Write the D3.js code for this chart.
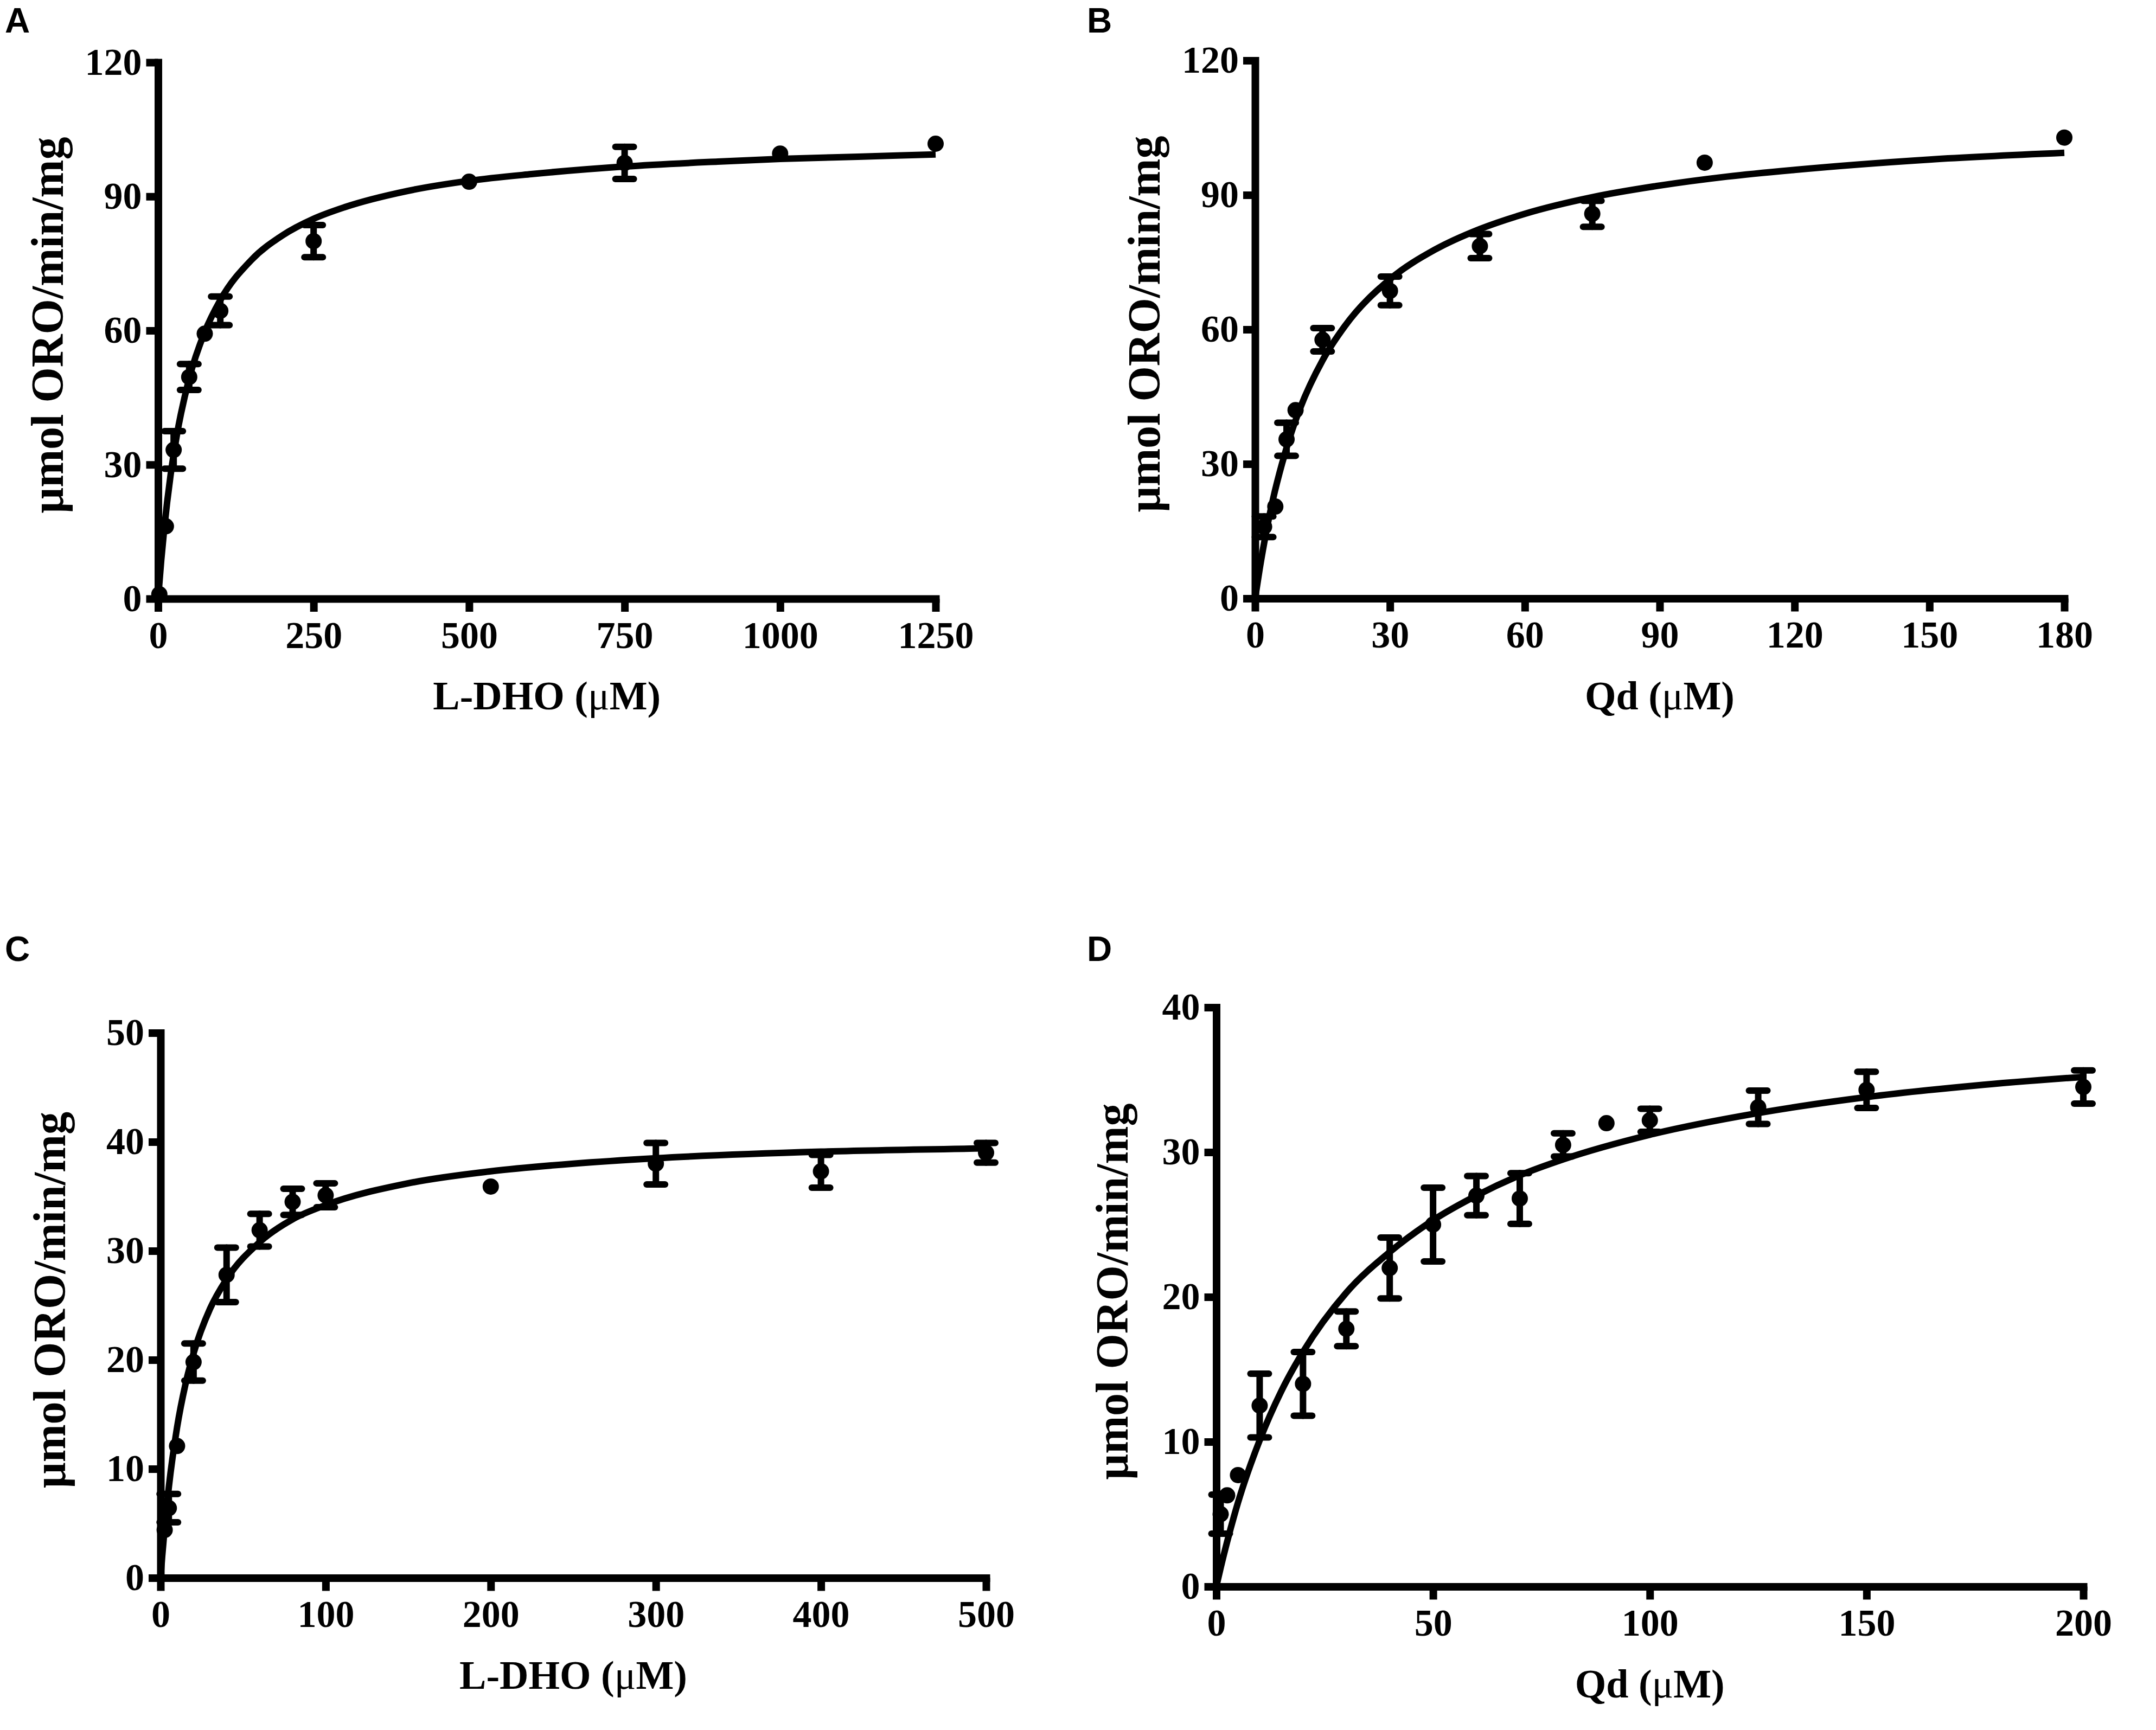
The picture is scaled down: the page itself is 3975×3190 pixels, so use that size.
<!DOCTYPE html>
<html>
<head>
<meta charset="utf-8">
<script src="https://cdn.jsdelivr.net/npm/d3@7"></script>
<style>
  body { margin: 0; background: #fff; }
  .tick text { font-family: "Liberation Serif", "Times New Roman", serif; font-weight: bold; }
</style>
</head>
<body>
<div id="figure"></div>
<script>
var svgWidth = 3975;
var svgHeight = 3190;

// ---- panel A : L-DHO ----
var aX = [2, 12.5, 25, 50, 75, 100, 250, 500, 750, 1000, 1250];
var aY = [1, 16.2, 33.3, 49.6, 59.3, 64.4, 80.0, 93.3, 97.5, 99.6, 101.8];
var aErr = [0, 0, 4.2, 2.9, 0, 3.2, 3.6, 0, 3.6, 0, 0];
var aFitX = [0, 5, 10, 20, 30, 50, 75, 100, 150, 200, 250, 300, 400, 500, 600, 750, 900, 1000, 1125, 1250];
var aFitY = [0, 8.6, 15.9, 27.6, 36.5, 49.3, 59.7, 66.8, 75.8, 81.3, 85.0, 87.6, 91.2, 93.5, 95.0, 96.7, 97.8, 98.4, 98.9, 99.4];
var aXTicks = [0, 250, 500, 750, 1000, 1250];
var aYTicks = [0, 30, 60, 90, 120];

// ---- panel B : Qd ----
var bX = [2, 4.5, 7, 9, 15, 30, 50, 75, 100, 180];
var bY = [16.0, 20.5, 35.5, 42.0, 57.7, 68.6, 78.6, 85.8, 97.2, 102.8];
var bErr = [2.3, 0, 3.7, 0, 2.6, 3.2, 2.7, 2.9, 0, 0];
var bFitX = [0, 1, 2, 4, 6, 8, 10, 15, 20, 30, 40, 50, 60, 75, 90, 105, 120, 150, 180];
var bFitY = [0, 6.5, 12.3, 22.2, 30.1, 36.8, 42.4, 53.1, 60.8, 71.2, 77.8, 82.4, 85.8, 89.5, 92.1, 94.1, 95.6, 97.9, 99.4];
var bXTicks = [0, 30, 60, 90, 120, 150, 180];
var bYTicks = [0, 30, 60, 90, 120];

// ---- panel C : L-DHO ----
var cX = [2.5, 5, 10, 20, 40, 60, 80, 100, 200, 300, 400, 500];
var cY = [4.4, 6.4, 12.1, 19.8, 27.8, 31.9, 34.5, 35.1, 35.9, 38.0, 37.3, 39.0];
var cErr = [0, 1.3, 0, 1.7, 2.5, 1.5, 1.2, 1.1, 0, 1.9, 1.5, 0.9];
var cFitX = [0, 1, 2.5, 5, 10, 15, 20, 30, 40, 60, 80, 100, 150, 200, 250, 300, 400, 500];
var cFitY = [0, 2.0, 4.6, 8.3, 13.8, 17.7, 20.6, 24.7, 27.4, 30.8, 32.9, 34.2, 36.2, 37.3, 38.0, 38.5, 39.1, 39.4];
var cXTicks = [0, 100, 200, 300, 400, 500];
var cYTicks = [0, 10, 20, 30, 40, 50];

// ---- panel D : Qd ----
var dX = [1, 2.5, 5, 10, 20, 30, 40, 50, 60, 70, 80, 90, 100, 125, 150, 200];
var dY = [5.0, 6.3, 7.7, 12.5, 14.0, 17.8, 22.0, 25.0, 27.0, 26.8, 30.5, 32.0, 32.2, 33.1, 34.3, 34.5];
var dErr = [1.35, 0, 0, 2.2, 2.2, 1.2, 2.1, 2.55, 1.35, 1.75, 0.8, 0, 0.8, 1.15, 1.25, 1.15];
var dFitX = [0, 1, 2.5, 5, 10, 15, 20, 30, 40, 50, 60, 70, 80, 100, 125, 150, 175, 200];
var dFitY = [0, 1.3, 3.1, 5.8, 10.1, 13.5, 16.2, 20.3, 23.1, 25.3, 27.0, 28.4, 29.5, 31.2, 32.7, 33.8, 34.6, 35.2];
var dXTicks = [0, 50, 100, 150, 200];
var dYTicks = [0, 10, 20, 30, 40];

var yTitle = "\u03bcmol ORO/min/mg";

var svg = d3.select("#figure")
  .append("svg")
  .attr("width", svgWidth)
  .attr("height", svgHeight)
  .style("display", "block");

svg.append("rect")
  .attr("width", svgWidth)
  .attr("height", svgHeight)
  .attr("fill", "#fff");

// draws one kinetics panel: axes, fitted curve, error bars and dots
function drawPanel(p) {
  var xScale = d3.scaleLinear().domain([0, p.xMax]).range([p.left, p.right]);
  var yScale = d3.scaleLinear().domain([0, p.yMax]).range([p.bottom, p.top]);

  var g = svg.append("g");

  // panel letter
  g.append("text")
    .attr("x", p.letterX)
    .attr("y", p.letterY)
    .style("font-family", "'Liberation Sans', Arial, sans-serif")
    .style("font-weight", "bold")
    .style("font-size", "64px")
    .text(p.letter);

  // axes
  var xAxis = g.append("g")
    .attr("transform", `translate(0, ${p.bottom})`)
    .call(d3.axisBottom(xScale).tickValues(p.xTicks).tickFormat(d3.format("d"))
      .tickSize(24).tickSizeOuter(0).tickPadding(17));

  var yAxis = g.append("g")
    .attr("transform", `translate(${p.left}, 0)`)
    .call(d3.axisLeft(yScale).tickValues(p.yTicks).tickFormat(d3.format("d"))
      .tickSize(22).tickSizeOuter(0).tickPadding(8));

  [xAxis, yAxis].forEach(function(ax) {
    ax.select(".domain")
      .attr("stroke", "#000")
      .attr("stroke-width", 14)
      .attr("stroke-linecap", "square");
    ax.selectAll(".tick line")
      .attr("stroke", "#000")
      .attr("stroke-width", 14);
    ax.selectAll(".tick text")
      .attr("fill", "#000")
      .style("font-size", "70px");
  });

  // x axis title
  var xt = g.append("text")
    .attr("x", (p.left + p.right) / 2)
    .attr("y", p.bottom + 204)
    .attr("text-anchor", "middle")
    .style("font-family", "'Liberation Serif', 'Times New Roman', serif")
    .style("font-weight", "bold")
    .style("font-size", "74px");
  xt.append("tspan").text(p.xLabel + " (");
  xt.append("tspan").style("font-weight", "normal").text("\u03bc");
  xt.append("tspan").text("M)");

  // y axis title
  g.append("text")
    .attr("transform", `translate(${p.left + p.titleOffset}, ${(p.top + p.bottom) / 2 - 10}) rotate(-90)`)
    .attr("text-anchor", "middle")
    .style("font-family", "'Liberation Serif', 'Times New Roman', serif")
    .style("font-weight", "bold")
    .style("font-size", "84px")
    .text(yTitle);

  // fitted curve
  var fit = p.fitX.map(function(x, i) { return { x: x, y: p.fitY[i] }; });
  var line = d3.line()
    .x(d => xScale(d.x))
    .y(d => yScale(d.y))
    .curve(d3.curveMonotoneX);

  g.append("path")
    .datum(fit)
    .attr("d", line)
    .attr("fill", "none")
    .attr("stroke", "#000")
    .attr("stroke-width", 12);

  var pts = p.x.map(function(x, i) { return { x: x, y: p.y[i], e: p.err[i] }; });

  // error bars
  var bars = g.selectAll(".err")
    .data(pts.filter(d => d.e > 0))
    .enter()
    .append("g")
    .attr("stroke", "#000")
    .attr("stroke-width", 12)
    .attr("stroke-linecap", "round");

  bars.append("line")
    .attr("x1", d => xScale(d.x))
    .attr("x2", d => xScale(d.x))
    .attr("y1", d => yScale(d.y - d.e))
    .attr("y2", d => yScale(d.y + d.e));

  [1, -1].forEach(function(s) {
    bars.append("line")
      .attr("x1", d => xScale(d.x) - 17)
      .attr("x2", d => xScale(d.x) + 17)
      .attr("y1", d => yScale(d.y + s * d.e))
      .attr("y2", d => yScale(d.y + s * d.e));
  });

  // data points
  g.selectAll(".dot")
    .data(pts)
    .enter()
    .append("circle")
    .attr("cx", d => xScale(d.x))
    .attr("cy", d => yScale(d.y))
    .attr("r", 15)
    .attr("fill", "#000");
}

drawPanel({
  letter: "A", letterX: 9, letterY: 60,
  left: 291.5, right: 1725, top: 115, bottom: 1104,
  xMax: 1250, yMax: 120, xTicks: aXTicks, yTicks: aYTicks,
  x: aX, y: aY, err: aErr, fitX: aFitX, fitY: aFitY,
  xLabel: "L-DHO", titleOffset: -176
});

drawPanel({
  letter: "B", letterX: 2004, letterY: 60,
  left: 2314, right: 3806, top: 111.5, bottom: 1103.5,
  xMax: 180, yMax: 120, xTicks: bXTicks, yTicks: bYTicks,
  x: bX, y: bY, err: bErr, fitX: bFitX, fitY: bFitY,
  xLabel: "Qd", titleOffset: -176
});

drawPanel({
  letter: "C", letterX: 9, letterY: 1772,
  left: 296, right: 1818, top: 1904.5, bottom: 2909.5,
  xMax: 500, yMax: 50, xTicks: cXTicks, yTicks: cYTicks,
  x: cX, y: cY, err: cErr, fitX: cFitX, fitY: cFitY,
  xLabel: "L-DHO", titleOffset: -176
});

drawPanel({
  letter: "D", letterX: 2004, letterY: 1772,
  left: 2242.5, right: 3841, top: 1857.5, bottom: 2925.5,
  xMax: 200, yMax: 40, xTicks: dXTicks, yTicks: dYTicks,
  x: dX, y: dY, err: dErr, fitX: dFitX, fitY: dFitY,
  xLabel: "Qd", titleOffset: -164
});
</script>
</body>
</html>
